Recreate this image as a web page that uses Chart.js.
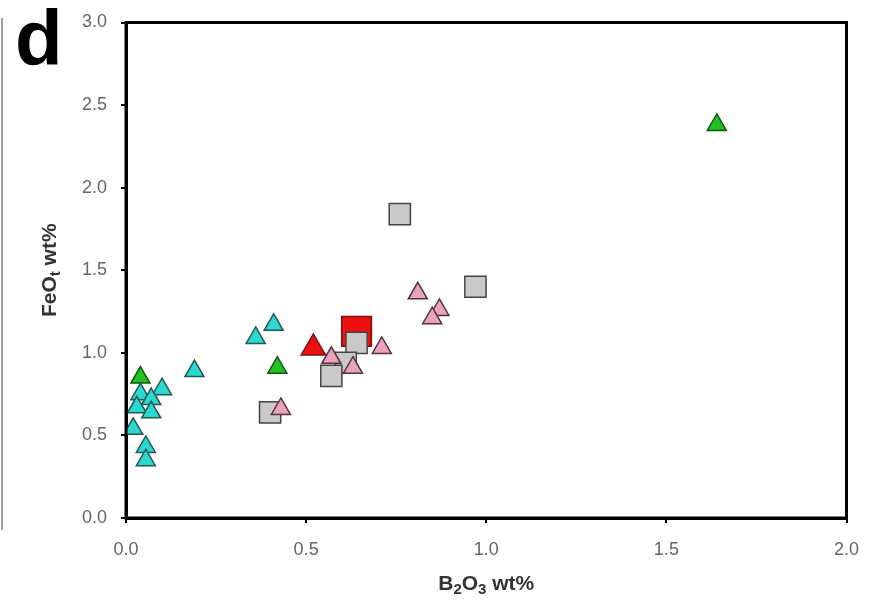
<!DOCTYPE html>
<html>
<head>
<meta charset="utf-8">
<script src="https://cdn.jsdelivr.net/npm/chart.js@4"></script>
<style>
    html, body { margin: 0; padding: 0; background: #fff; }
    #wrap { width: 869px; height: 612px; position: relative; }
</style>
</head>
<body>
<div id="wrap"><canvas id="feoChart"></canvas></div>
<script>
// --- 1. DATA ---
const xTicks = [0.0, 0.5, 1.0, 1.5, 2.0];
const yTicks = [0.0, 0.5, 1.0, 1.5, 2.0, 2.5, 3.0];

const pinkX = [0.81, 0.87, 0.85, 0.71, 0.63, 0.57, 0.43];
const pinkY = [1.36, 1.26, 1.21, 1.03, 0.91, 0.97, 0.66];

const grayX = [0.76, 0.97, 0.64, 0.61, 0.57, 0.40];
const grayY = [1.84, 1.40, 1.06, 0.94, 0.86, 0.64];

const cyanX = [0.41, 0.36, 0.19, 0.10, 0.04, 0.07, 0.03, 0.07, 0.02, 0.055, 0.055];
const cyanY = [1.17, 1.09, 0.89, 0.78, 0.75, 0.72, 0.67, 0.64, 0.54, 0.43, 0.35];

const greenX = [1.64, 0.42, 0.04];
const greenY = [2.38, 0.91, 0.85];

const redTriX = [0.52];
const redTriY = [1.03];

const redSqX = [0.64];
const redSqY = [1.13];

function pts(xs, ys) { return xs.map((x, i) => ({ x: x, y: ys[i] })); }

// --- 2. EXTRA DRAWING (frame, titles with subscripts, panel letter) ---
function drawSub(ctx, parts, x, y) {
    // parts: [[text, isSub], ...] drawn centered on x
    const big = 'bold 21px "Liberation Sans", Arial, sans-serif';
    const small = 'bold 15px "Liberation Sans", Arial, sans-serif';
    let total = 0;
    parts.forEach(p => { ctx.font = p[1] ? small : big; total += ctx.measureText(p[0]).width; });
    let cx = x - total / 2;
    parts.forEach(p => {
        ctx.font = p[1] ? small : big;
        ctx.fillText(p[0], cx, p[1] ? y + 6 : y);
        cx += ctx.measureText(p[0]).width;
    });
}

// keep the plot box where the layout padding puts it (no room added for tick label overhang)
function noOverhang(s) { s.paddingLeft = 0; s.paddingRight = 0; s.paddingTop = 0; s.paddingBottom = 0; }

const decorPlugin = {
    id: 'decor',
    afterDraw(chart) {
        const ctx = chart.ctx;
        const a = chart.chartArea;
        ctx.save();
        // box around plot
        ctx.strokeStyle = '#000';
        ctx.lineWidth = 3;
        ctx.strokeRect(a.left, a.top, a.right - a.left, a.bottom - a.top);

        // neighbouring panel edge
        ctx.strokeStyle = '#a0a0a0';
        ctx.lineWidth = 2;
        ctx.beginPath(); ctx.moveTo(2, 18); ctx.lineTo(2, 530); ctx.stroke();

        // panel letter
        ctx.fillStyle = '#000';
        ctx.textBaseline = 'alphabetic';
        ctx.textAlign = 'left';
        ctx.font = 'bold 78px "Liberation Sans", Arial, sans-serif';
        ctx.fillText('d', 15, 65);

        // axis titles
        ctx.fillStyle = '#333';
        ctx.textBaseline = 'middle';
        drawSub(ctx, [['B', false], ['2', true], ['O', false], ['3', true], [' wt%', false]], (a.left + a.right) / 2, 584);

        ctx.translate(50, (a.top + a.bottom) / 2);
        ctx.rotate(-Math.PI / 2);
        drawSub(ctx, [['FeO', false], ['t', true], [' wt%', false]], 0, 0);
        ctx.restore();
    }
};

// --- 3. CHART ---
const tickFont = { family: '"Liberation Sans", Arial, sans-serif', size: 18 };

new Chart(document.getElementById('feoChart'), {
    type: 'scatter',
    data: {
        datasets: [
            { label: 'pink', data: pts(pinkX, pinkY), pointStyle: 'triangle', pointRadius: 11, backgroundColor: '#eaa3bd', borderColor: '#5a3040', borderWidth: 1.5 },
            { label: 'gray', data: pts(grayX, grayY), pointStyle: 'rect', pointRadius: 15, backgroundColor: '#c9c9c9', borderColor: '#444', borderWidth: 1.5 },
            { label: 'cyan', data: pts(cyanX, cyanY), pointStyle: 'triangle', pointRadius: 11, backgroundColor: '#2ad8cf', borderColor: '#245858', borderWidth: 1.5 },
            { label: 'green', data: pts(greenX, greenY), pointStyle: 'triangle', pointRadius: 11, backgroundColor: '#22c022', borderColor: '#0b5a0b', borderWidth: 1.5 },
            { label: 'redTri', data: pts(redTriX, redTriY), pointStyle: 'triangle', pointRadius: 14, backgroundColor: '#ee1010', borderColor: '#7a1010', borderWidth: 1.5 },
            { label: 'redSq', data: pts(redSqX, redSqY), pointStyle: 'rect', pointRadius: 21, backgroundColor: '#ee1010', borderColor: '#7a1010', borderWidth: 1.5 }
        ]
    },
    options: {
        responsive: true,
        maintainAspectRatio: false,
        animation: false,
        layout: { padding: { left: 0, top: 21, right: 22, bottom: 0 } },
        plugins: { legend: { display: false }, tooltip: { enabled: false } },
        scales: {
            x: {
                type: 'linear', min: 0, max: 2,
                afterFit: s => { s.height = 94; noOverhang(s); },
                afterBuildTicks: s => { s.ticks = xTicks.map(v => ({ value: v })); },
                grid: { drawOnChartArea: false, drawTicks: true, tickLength: 5, color: '#000', lineWidth: 2 },
                border: { display: true, color: '#000', width: 3 },
                ticks: { color: '#666', font: tickFont, padding: 16, maxRotation: 0, callback: v => v.toFixed(1) }
            },
            y: {
                type: 'linear', min: 0, max: 3,
                afterFit: s => { s.width = 126; noOverhang(s); },
                afterBuildTicks: s => { s.ticks = yTicks.map(v => ({ value: v })); },
                grid: { drawOnChartArea: false, drawTicks: true, tickLength: 5, color: '#000', lineWidth: 2 },
                border: { display: true, color: '#000', width: 3 },
                ticks: { color: '#666', font: tickFont, padding: 14, callback: v => v.toFixed(1) }
            }
        }
    },
    plugins: [decorPlugin]
});
</script>
</body>
</html>
